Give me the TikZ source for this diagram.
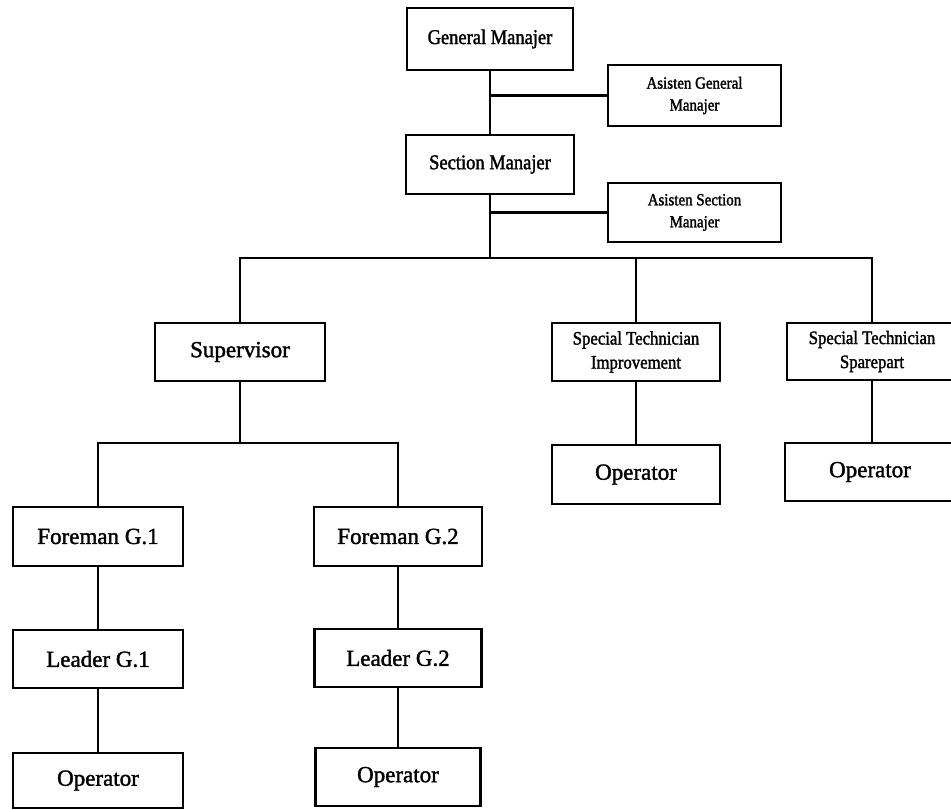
\documentclass[tikz,border=0pt]{standalone}
\usepackage{fontspec}
\setmainfont{Liberation Serif}[FakeBold=1.6]
\newfontfamily\narrowserif{Liberation Serif}[FakeStretch=0.88, FakeBold=1.6]
\begin{document}
\begin{tikzpicture}[x=1pt,y=-1pt,
  box/.style={draw=black, line width=2.8pt, fill=white, rectangle, inner sep=0pt, align=center},
  bigtext/.style={font=\fontsize{23}{27}\selectfont},
  headtext/.style={font=\narrowserif\fontsize{21}{25}\selectfont},
  asttext/.style={font=\narrowserif\fontsize{17}{22}\selectfont},
  techtext/.style={font=\narrowserif\fontsize{19}{24}\selectfont},
  link/.style={draw=black, line width=2.4pt}]

\path[use as bounding box, clip] (0,0) rectangle (951,810);
\fill[white] (0,0) rectangle (951,810);

% management
\node[box, headtext, minimum width=166, minimum height=62] (gm)  at (490,39)    {General Manajer};
\node[box, asttext,  minimum width=173, minimum height=61] (agm) at (694.5,95.5) {Asisten General\\Manajer};
\node[box, headtext, minimum width=168, minimum height=59] (sm)  at (490,164.5) {Section Manajer};
\node[box, asttext,  minimum width=173, minimum height=59] (asm) at (694.5,212.5) {Asisten Section\\Manajer};

% second level
\node[box, bigtext,  minimum width=170, minimum height=58] (sup) at (240,352)   {Supervisor};
\node[box, techtext, minimum width=168, minimum height=58] (sti) at (636,352)   {Special Technician\\Improvement};
\node[box, techtext, minimum width=170, minimum height=57] (sts) at (872,351.5) {Special Technician\\Sparepart};
\node[box, bigtext,  minimum width=168, minimum height=59] (op3) at (636,474.5) {Operator};
\node[box, bigtext,  minimum width=170, minimum height=58] (op4) at (870,472)   {Operator};

% groups
\node[box, bigtext, minimum width=170, minimum height=59] (f1) at (98,536.5)  {Foreman G.1};
\node[box, bigtext, minimum width=168, minimum height=59] (f2) at (398,536.5) {Foreman G.2};
\node[box, bigtext, minimum width=170, minimum height=58] (l1) at (98,659)    {Leader G.1};
\node[box, bigtext, minimum width=167, minimum height=58] (l2) at (398,658)   {Leader G.2};
\node[box, bigtext, minimum width=170, minimum height=55] (o1) at (98,780.5)  {Operator};
\node[box, bigtext, minimum width=165, minimum height=58] (o2) at (398,777)   {Operator};

% branch points
\coordinate (b1) at (490,258);
\coordinate (b2) at (240,443);

% connectors
\draw[link] (gm.south) -- (sm.north);
\draw[link] (gm.south |- agm.west) -- (agm.west);
\draw[link] (sm.south) -- (b1);
\draw[link] (sm.south |- asm.west) -- (asm.west);
\draw[link] (sup.north) |- (b1) -| (sts.north);
\draw[link] (b1 -| sti.north) -- (sti.north);
\draw[link] (sti.south) -- (op3.north);
\draw[link] (sts.south) -- (sts.south |- op4.north);
\draw[link] (sup.south) -- (b2);
\draw[link] (f1.north) |- (b2) -| (f2.north);
\draw[link] (f1.south) -- (l1.north);
\draw[link] (l1.south) -- (o1.north);
\draw[link] (f2.south) -- (l2.north);
\draw[link] (l2.south) -- (o2.north);
\end{tikzpicture}
\end{document}
